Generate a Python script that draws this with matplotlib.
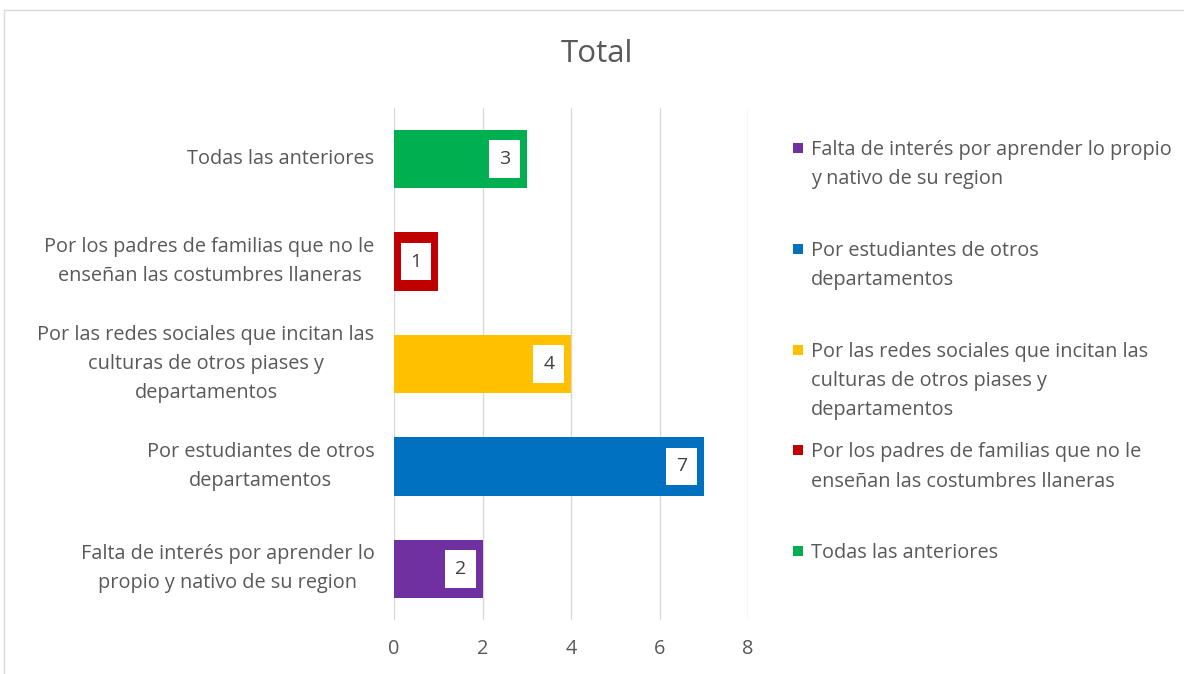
import matplotlib.pyplot as plt
from matplotlib.patches import Rectangle
from matplotlib.path import Path

plt.rcParams['font.family'] = ['Open Sans', 'DejaVu Sans']

categories = [
    'Falta de interés por aprender lo propio y nativo de su region',
    'Por estudiantes de otros departamentos',
    'Por las redes sociales que incitan las culturas de otros piases y departamentos',
    'Por los padres de familias que no le enseñan las costumbres llaneras',
    'Todas las anteriores',
]
values = [2, 7, 4, 1, 3]
colors = ['#7030A0', '#0070C0', '#FFC000', '#C00000', '#00B050']

tick_labels = [
    'Falta de interés por aprender lo\npropio y nativo de su region',
    'Por estudiantes de otros\ndepartamentos',
    'Por las redes sociales que incitan las\nculturas de otros piases y\ndepartamentos',
    'Por los padres de familias que no le\nenseñan las costumbres llaneras',
    'Todas las anteriores',
]
legend_labels = [
    'Falta de interés por aprender lo propio\ny nativo de su region',
    'Por estudiantes de otros\ndepartamentos',
    'Por las redes sociales que incitan las\nculturas de otros piases y\ndepartamentos',
    'Por los padres de familias que no le\nenseñan las costumbres llaneras',
    'Todas las anteriores',
]
xticks = [0, 2, 4, 6, 8]

text_color = '#595959'
fs = 14.3
W, H = 1184, 674


def tall_box(x0, y0, width, height, mutation_size):
    # data label box: a bit taller than a plain square pad
    px, py = 0.5 * mutation_size, 0.5 * mutation_size
    x0, y0, x1, y1 = x0 - px, y0 - py, x0 + width + px, y0 + height + py
    return Path([(x0, y0), (x1, y0), (x1, y1), (x0, y1), (x0, y0)], closed=True)


fig = plt.figure(figsize=(W / 100, H / 100), dpi=100)

# chart border (Excel chart area)
fig.patches.append(Rectangle((4 / W, -0.1), 1.2, 1.1 - 10 / H, transform=fig.transFigure,
                             fill=False, edgecolor='#D9D9D9', linewidth=1))

ax = fig.add_axes([394 / W, 1 - 620 / H, 354 / W, (620 - 108) / H])
ypos = range(len(values))
bars = ax.barh(ypos, values, height=0.57, color=colors, zorder=3)

ax.set_xlim(0, 8)
ax.set_ylim(-0.5, len(values) - 0.5)
ax.set_xticks(xticks)
ax.set_yticks(list(ypos))
ax.set_yticklabels(tick_labels)
plt.setp(ax.get_yticklabels(), multialignment='center', linespacing=1.62, va='center')
ax.tick_params(axis='both', length=0, colors=text_color, labelsize=fs)
ax.tick_params(axis='y', pad=14)
ax.tick_params(axis='x', pad=14)
ax.grid(axis='x', color='#D9D9D9', linewidth=1, zorder=0)
for s in ax.spines.values():
    s.set_visible(False)

for rect, v in zip(bars, values):
    ax.annotate(str(v), xy=(rect.get_width(), rect.get_y() + rect.get_height() / 2),
                xytext=(-16, 0), textcoords='offset points', ha='center', va='center',
                fontsize=14, color='#404040', zorder=5,
                bbox=dict(boxstyle=tall_box, facecolor='white', edgecolor='none'))

fig.text(597 / W, 1 - 54 / H, 'Total', ha='center', va='center', fontsize=22.5, color=text_color)

# legend
leg_y0, leg_step = 148, 100.8
for i, (lab, c) in enumerate(zip(legend_labels, colors)):
    yc = leg_y0 + i * leg_step
    fig.patches.append(Rectangle((793 / W, 1 - (yc + 5) / H), 10 / W, 10 / H,
                                 transform=fig.transFigure, facecolor=c, edgecolor='none'))
    fig.text(811 / W, 1 - (yc - 8) / H, lab, ha='left', va='top', fontsize=fs,
             color=text_color, linespacing=1.62)

fig.savefig('out.png', dpi=100)
